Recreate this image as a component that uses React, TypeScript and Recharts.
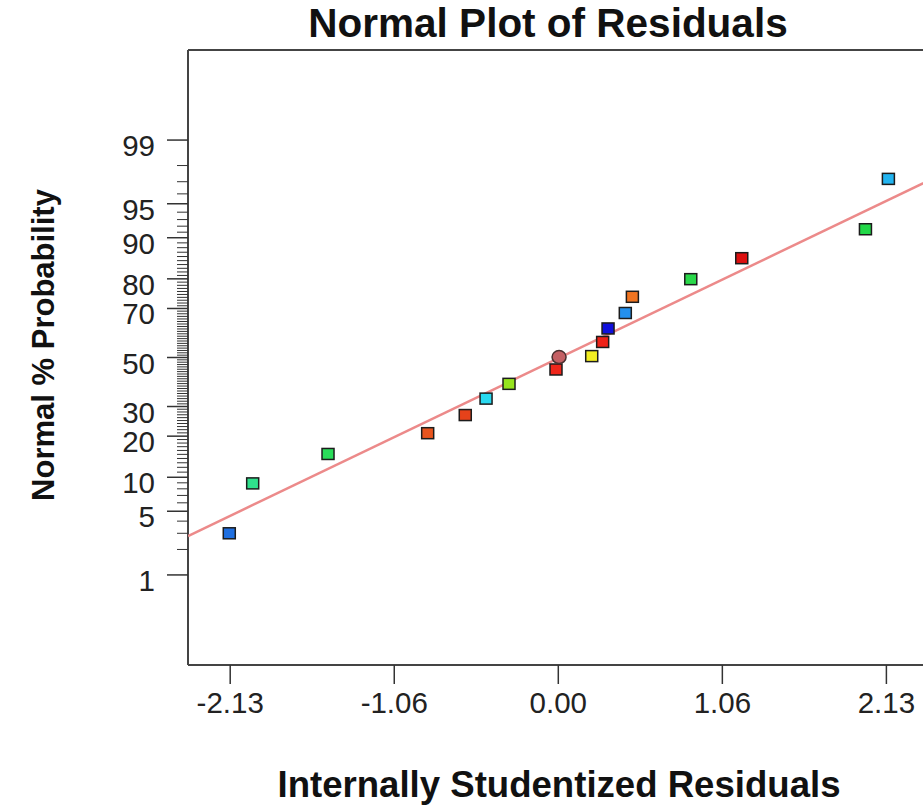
import { ReferenceLine, Scatter, ScatterChart, XAxis, YAxis } from 'recharts'

// studentized residuals and their normal % probability
const residuals = [-2.136, -1.984, -1.495, -0.848, -0.604, -0.469, -0.32, -0.015, 0.217, 0.288, 0.323, 0.435, 0.481, 0.86, 1.191, 1.994, 2.143]
const probabilities = [3.0, 8.9, 15.1, 20.9, 26.9, 33.0, 38.9, 44.9, 50.6, 56.6, 62.2, 68.3, 74.2, 79.9, 85.6, 91.5, 97.2]
const pointColors = [
  '#1f6fe0', '#2fe08c', '#2add5a', '#e8541e', '#e6421a', '#2ad8ef', '#96e41e', '#f0261a', '#f2ee22',
  '#ee2218', '#1010dd', '#2390ee', '#f07420', '#2ad84a', '#dd1010', '#22d848', '#22b4f0',
]
const centerResidual = [0.005]
const centerProbability = [50.2]

// fitted reference line, end points
const lineResiduals = [-2.404, 2.37]
const lineProbabilities = [2.8, 96.9]

const xTicks = [-2.13, -1.065, 0, 1.065, 2.13]
const xTickLabels = ['-2.13', '-1.06', '0.00', '1.06', '2.13']
const majorProbTicks = [1, 5, 10, 20, 30, 50, 70, 80, 90, 95, 99]
const minorProbTicks = Array.from({ length: 97 }, (_, i) => i + 2).filter((p) => !majorProbTicks.includes(p))

const FONT = '"Liberation Sans", Arial, sans-serif'
const X_DOMAIN = [-2.404, 2.404]
const Z_DOMAIN = [-3.29, 3.29]

// inverse normal cdf (Acklam)
function probit(p: number) {
  const a = [-39.6968302866538, 220.946098424521, -275.928510446969, 138.357751867269, -30.6647980661472, 2.50662827745924]
  const b = [-54.4760987982241, 161.585836858041, -155.698979859887, 66.8013118877197, -13.2806815528857]
  const c = [-0.00778489400243029, -0.322396458041136, -2.40075827716184, -2.54973253934373, 4.37466414146497, 2.93816398269878]
  const d = [0.00778469570904146, 0.32246712907004, 2.445134137143, 3.75440866190742]
  const pl = 0.02425
  if (p < pl) {
    const q = Math.sqrt(-2 * Math.log(p))
    return (((((c[0] * q + c[1]) * q + c[2]) * q + c[3]) * q + c[4]) * q + c[5]) / ((((d[0] * q + d[1]) * q + d[2]) * q + d[3]) * q + 1)
  }
  if (p > 1 - pl) {
    const q = Math.sqrt(-2 * Math.log(1 - p))
    return -(((((c[0] * q + c[1]) * q + c[2]) * q + c[3]) * q + c[4]) * q + c[5]) / ((((d[0] * q + d[1]) * q + d[2]) * q + d[3]) * q + 1)
  }
  const q = p - 0.5
  const r = q * q
  return ((((((a[0] * r + a[1]) * r + a[2]) * r + a[3]) * r + a[4]) * r + a[5]) * q) / (((((b[0] * r + b[1]) * r + b[2]) * r + b[3]) * r + b[4]) * r + 1)
}

const points = residuals.map((x, i) => ({ x, z: probit(probabilities[i] / 100), color: pointColors[i] }))
const centerPoint = centerResidual.map((x, i) => ({ x, z: probit(centerProbability[i] / 100) }))
const fitLine = lineResiduals.map((x, i) => ({ x, z: probit(lineProbabilities[i] / 100) }))

const allProbTicks = [...majorProbTicks, ...minorProbTicks].sort((a, b) => a - b)
const zTicks = allProbTicks.map((p) => probit(p / 100))

function ProbTick(props: any) {
  const { x, y, payload } = props
  const p = allProbTicks.find((t) => Math.abs(probit(t / 100) - payload.value) < 1e-6)
  const major = p !== undefined && majorProbTicks.includes(p)
  return (
    <g>
      <line x1={x - (major ? 21 : 11)} x2={x} y1={y} y2={y} stroke="#333" strokeWidth={major ? 1.5 : 1} />
      {major && (
        <text x={x - 33} y={y + 16} textAnchor="end" fontSize={29.5} fontFamily={FONT} fill="#222">
          {p}
        </text>
      )}
    </g>
  )
}

function SquareMark(props: any) {
  const { cx, cy, payload } = props
  return <rect x={cx - 6} y={cy - 5.5} width={12} height={11} fill={payload.color} stroke="#1c1c1c" strokeWidth={1.5} />
}

function CircleMark(props: any) {
  const { cx, cy } = props
  return <ellipse cx={cx} cy={cy} rx={7} ry={6.5} fill="#c46064" stroke="#4a3030" strokeWidth={1.5} />
}

const xLabel = () => (
  <text x={559} y={797} textAnchor="middle" fontSize={36.6} fontWeight="bold" fontFamily={FONT} fill="#111">
    Internally Studentized Residuals
  </text>
)

// y axis title plus the chart title
const yLabel = () => (
  <g>
    <text x={548} y={37} textAnchor="middle" fontSize={40.5} fontWeight="bold" fontFamily={FONT} fill="#111">
      Normal Plot of Residuals
    </text>
    <text x={54} y={345} transform="rotate(-90 54 345)" textAnchor="middle" fontSize={31} fontWeight="bold" fontFamily={FONT} fill="#111">
      Normal % Probability
    </text>
  </g>
)

export default function App() {
  return (
    <div style={{ position: 'fixed', left: 0, top: 0, width: 923, height: 805, overflow: 'hidden', background: '#fff' }}>
      <ScatterChart width={940} height={805} margin={{ top: 50, right: 11.4, left: 0, bottom: 0 }}>
        <XAxis
          dataKey="x"
          type="number"
          domain={X_DOMAIN}
          allowDataOverflow
          ticks={xTicks}
          interval={0}
          height={140}
          tickSize={19}
          tickMargin={8}
          tickFormatter={(_v: number, i: number) => xTickLabels[i]}
          tick={{ fontSize: 29.5, fontFamily: FONT, fill: '#222' }}
          tickLine={{ stroke: '#333', strokeWidth: 1.5 }}
          axisLine={{ stroke: '#444', strokeWidth: 2 }}
          label={xLabel}
        />
        <YAxis
          dataKey="z"
          type="number"
          domain={Z_DOMAIN}
          allowDataOverflow
          ticks={zTicks}
          interval={0}
          width={188}
          tickSize={0}
          tickMargin={0}
          tickLine={false}
          tick={<ProbTick />}
          axisLine={{ stroke: '#444', strokeWidth: 2 }}
          label={yLabel}
        />
        <ReferenceLine y={Z_DOMAIN[1]} stroke="#444" strokeWidth={2} />
        <Scatter
          data={fitLine}
          line={{ stroke: '#ec8a8a', strokeWidth: 2.5 }}
          shape={() => <g />}
          isAnimationActive={false}
        />
        <Scatter data={points} shape={<SquareMark />} isAnimationActive={false} />
        <Scatter data={centerPoint} shape={<CircleMark />} isAnimationActive={false} />
      </ScatterChart>
    </div>
  )
}
